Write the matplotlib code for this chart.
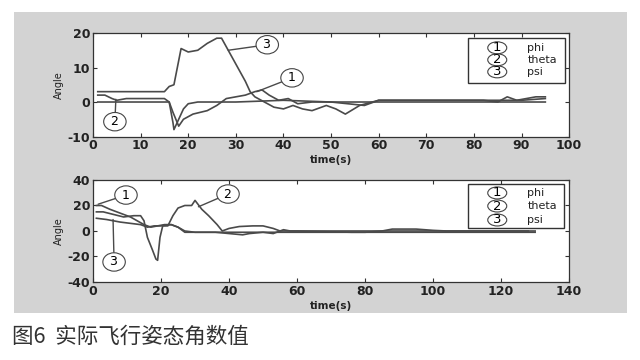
import matplotlib
matplotlib.use("Agg")
import matplotlib.pyplot as plt
from matplotlib.patches import Rectangle, Ellipse

plt.rcParams["axes.unicode_minus"] = False

# ---- data ----
# upper plot
t1_phi = [1, 16, 16.8, 18, 19, 21, 24, 26, 28, 30, 32, 34, 35.5, 37, 39, 41, 43, 46, 50, 57, 60, 70, 82, 85, 87, 89, 93, 95]
v1_phi = [0, 0, -3, -7, -5, -3.5, -2.5, -1, 1, 1.5, 2, 3, 3.5, 2, 0.5, 1, -0.5, 0, 0, -1, 0.5, 0.5, 0.5, 0, 1.5, 0.5, 1.5, 1.5]
t1_theta = [1, 2.5, 4, 5, 7, 15, 16, 16.8, 17, 18, 19, 20, 22, 30, 40, 50, 60, 70, 80, 90, 95]
v1_theta = [2, 2, 1, 0.5, 1, 1, 0, -6, -8, -5, -2, -0.5, 0, 0, 0.5, 0, 0, 0, 0, 0, 0]
t1_psi = [1, 15, 16, 17, 18, 18.5, 20, 22, 24, 26, 27, 28, 30, 32, 33, 34, 36, 38, 40, 42, 44, 46, 49, 51, 53, 56, 60, 70, 80, 90, 95]
v1_psi = [3, 3, 4.5, 5, 12, 15.5, 14.5, 15, 17, 18.5, 18.5, 16, 11, 6, 3, 1.5, 0, -1.5, -2, -1, -2, -2.5, -1, -2, -3.5, -1, 0.5, 0.5, 0.5, 0.5, 1]

# lower plot
t2_phi = [1, 2.5, 5, 8, 11, 13, 15, 17, 19, 21, 23, 25, 27, 40, 60, 80, 100, 120, 130]
v2_phi = [20, 20, 17, 14, 11, 8, 5, 3, 4, 5, 5, 3, -1, -1, -1, -1, -1, -1, -1]
t2_theta = [1, 3, 6, 9, 12, 14, 15, 16, 17.5, 18.5, 19, 19.7, 20.5, 22, 23.5, 25, 27, 29, 30, 32, 34, 36.5, 38, 40, 43, 47, 50, 53, 55, 56, 58, 60, 76, 80, 85, 88, 95, 100, 104, 128]
v2_theta = [15, 15, 13, 11, 12, 12, 8, -5, -15, -22, -23, -5, 4, 4, 12, 18, 20, 20, 24, 17, 12, 5, 0, 2, 3.5, 4, 4, 2, 0, 1, 0, 0, -1, -1, 0, 1.5, 1.5, 0.5, 0, 0]
t2_psi = [1, 4, 8, 11, 14, 16, 18, 20, 23, 25, 27, 30, 36, 40, 44, 46, 50, 53, 55, 70, 90, 110, 130]
v2_psi = [10, 9, 7, 6, 5, 3, 4, 4, 5, 3, 0, -1, -1, -2, -3, -2, -1, -2, 0, 0, 0, 0, 0]

names = ["phi", "theta", "psi"]
nums = ["1", "2", "3"]

LC = "#4a4a4a"
TC = "#222222"

fig = plt.figure(figsize=(6.4, 3.6), dpi=100, facecolor="white")
fig.patches.append(Rectangle((14 / 640, 1 - 313 / 360), 613 / 640, 301 / 360,
                             transform=fig.transFigure, facecolor="#d3d3d3",
                             edgecolor="none", zorder=-10))

ax1 = fig.add_axes([0.1453, 0.6208, 0.744, 0.2875])
ax2 = fig.add_axes([0.1453, 0.2167, 0.744, 0.2833])

circ = dict(boxstyle="ellipse,pad=0.0", fc="white", ec="#444444", lw=0.8)


def style(ax, xt, yt):
    ax.set_facecolor("white")
    ax.set_xticks(xt)
    ax.set_yticks(yt)
    ax.set_xlim(xt[0], xt[-1])
    ax.set_ylim(yt[0], yt[-1])
    ax.tick_params(direction="in", top=True, right=True, length=3, width=0.8,
                   labelsize=9, colors="#333333", labelcolor=TC, pad=2)
    for lab in ax.get_xticklabels() + ax.get_yticklabels():
        lab.set_fontweight("bold")
    for s in ax.spines.values():
        s.set_color("#333333")
        s.set_linewidth(0.9)
    ax.set_ylabel("Angle", fontsize=7, color=TC, labelpad=3)
    ax.set_xlabel("time(s)", fontsize=7.5, fontweight="bold", color=TC, labelpad=2)


def legend_box(ax, x0, y0, x1, y1, rows):
    ax.add_patch(Rectangle((x0, y0), x1 - x0, y1 - y0, transform=ax.transAxes,
                           fc="white", ec="#333333", lw=1.0, zorder=5))
    # oval about 19 x 12 px
    ew = 19 / (ax.get_position().width * 640)
    eh = 12 / (ax.get_position().height * 360)
    for n, name, yy in zip(nums, names, rows):
        ax.add_patch(Ellipse((0.849, yy), ew, eh, transform=ax.transAxes,
                             fc="white", ec="#444444", lw=0.8, zorder=6))
        ax.text(0.849, yy, n, transform=ax.transAxes, ha="center",
                va="center", fontsize=9.5, zorder=7)
        ax.text(0.912, yy, name, transform=ax.transAxes, ha="left", va="center",
                fontsize=8, color=TC, zorder=7)


def callout(ax, n, xy, xytext):
    ax.annotate(" " + n + " ", xy=xy, xytext=xytext, ha="center", va="center",
                fontsize=9, bbox=circ,
                arrowprops=dict(arrowstyle="-", color=LC, lw=1.0,
                                shrinkA=0, shrinkB=0), zorder=6)


# upper
for t, v in [(t1_phi, v1_phi), (t1_theta, v1_theta), (t1_psi, v1_psi)]:
    ax1.plot(t, v, color=LC, lw=1.2)
style(ax1, list(range(0, 101, 10)), [-10, 0, 10, 20])
legend_box(ax1, 0.788, 0.518, 0.992, 0.953, [0.857, 0.741, 0.625])
callout(ax1, "3", (28.4, 15), (36.6, 16.6))
callout(ax1, "1", (34.4, 3.0), (41.8, 7))
callout(ax1, "2", (4.8, 0.8), (4.6, -5.7))

# lower
for t, v in [(t2_phi, v2_phi), (t2_theta, v2_theta), (t2_psi, v2_psi)]:
    ax2.plot(t, v, color=LC, lw=1.2)
style(ax2, list(range(0, 141, 20)), [-40, -20, 0, 20, 40])
legend_box(ax2, 0.788, 0.529, 0.989, 0.961, [0.873, 0.745, 0.608])
callout(ax2, "1", (1.5, 21), (9.7, 28.2))
callout(ax2, "2", (31, 19), (39.7, 29))
callout(ax2, "3", (5.9, 9), (6.2, -24.3))

fig.text(12 / 640, 1 - 337 / 360, "图6  实际飞行姿态角数值", fontsize=15.5,
         family=["Noto Sans CJK SC", "DejaVu Sans"], color="#333333",
         ha="left", va="center")

fig.savefig("out.png", dpi=100, facecolor="white")
